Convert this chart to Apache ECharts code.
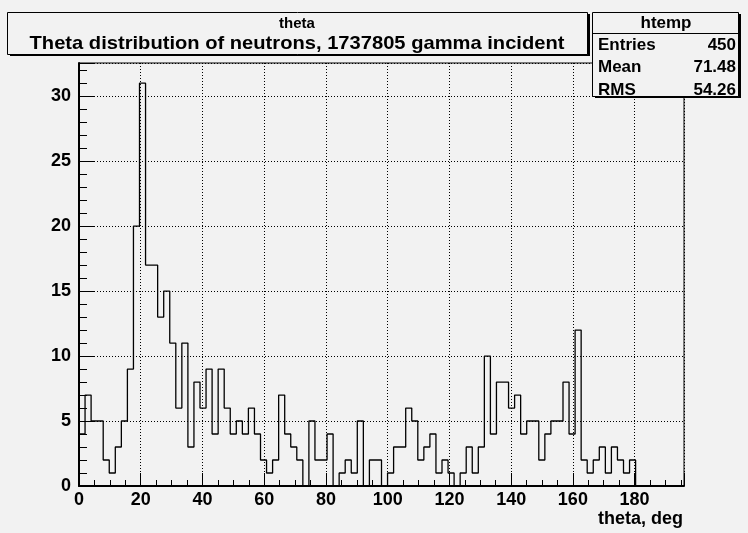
<!DOCTYPE html>
<html><head><meta charset="utf-8">
<script src="https://cdn.jsdelivr.net/npm/echarts@6/dist/echarts.min.js"></script>
<style>html,body{margin:0;padding:0;background:#f2f2f2}#c{width:748px;height:533px}</style>
</head><body><div id="c"></div><script>
// ---- data ----
const binWidth = 1.96;
const counts = [4,7,5,5,2,1,3,5,9,20, 31,17,17,13,15,11,6,11,3,8, 6,9,4,9,6,4,5,4,6,4,
  2,1,2,7,4,3,2,0,5,2, 2,4,0,1,2,1,5,0,2,2, 0,1,3,3,6,5,2,3,4,1, 2,1,0,1,3,1,3,10,4,8,
  8,6,7,4,5,5,2,4,5,5, 8,4,12,2,1,2,3,1,3,2, 1,2,0,0,0,0,0,0,0,0];
const xTickLabels = [0,20,40,60,80,100,120,140,160,180];
const yTickLabels = [0,5,10,15,20,25,30];
const titleLines = ['theta', 'Theta distribution of neutrons, 1737805 gamma incident'];
const statsName = 'htemp';
const statsLabels = ['Entries', 'Mean', 'RMS'];
const statsValues = ['450', '71.48', '54.26'];
const xName = 'theta, deg';
const xMax = 196, yMax = 32.55;

// ---- build ----
const pts = counts.map((v, i) => [+(i * binWidth).toFixed(4), v]);
pts.push([+(counts.length * binWidth).toFixed(4), counts[counts.length - 1]]);

const FF = "'Liberation Sans', Arial, Helvetica, sans-serif";
const chart = echarts.init(document.getElementById('c'), null, {renderer: 'canvas'});

const graphics = [];
const Z = 100;
// title box
graphics.push({type:'rect', z:Z, shape:{x:10, y:14, width:580, height:42}, style:{fill:'#000'}, silent:true});
graphics.push({type:'rect', z:Z, shape:{x:7.5, y:12.5, width:580, height:42}, style:{fill:'#f2f2f2', stroke:'#000', lineWidth:1}, silent:true});
graphics.push({type:'text', z:Z, x:297, y:24, style:{text:titleLines[0], x:0, y:0, textAlign:'center', textVerticalAlign:'middle', font:'bold 15px ' + FF, fill:'#000'}});
graphics.push({type:'text', z:Z, x:297, y:44, scaleX:1.06, style:{text:titleLines[1], x:0, y:0, textAlign:'center', textVerticalAlign:'middle', font:'bold 19px ' + FF, fill:'#000'}});
// stats box
graphics.push({type:'rect', z:Z, shape:{x:595, y:14, width:146, height:84}, style:{fill:'#000'}, silent:true});
graphics.push({type:'rect', z:Z, shape:{x:592.5, y:12.5, width:146, height:84}, style:{fill:'#f2f2f2', stroke:'#000', lineWidth:1}, silent:true});
graphics.push({type:'line', z:Z, shape:{x1:592.5, y1:33.5, x2:738.5, y2:33.5}, style:{stroke:'#000', lineWidth:1}});
graphics.push({type:'text', z:Z, style:{text:statsName, x:666, y:23, textAlign:'center', textVerticalAlign:'middle', font:'bold 17px ' + FF, fill:'#000'}});
statsLabels.forEach((t, i) => {
  const y = 45 + i * 22.5;
  graphics.push({type:'text', z:Z, style:{text:t, x:598, y:y, textAlign:'left', textVerticalAlign:'middle', font:'bold 17px ' + FF, fill:'#000'}});
  graphics.push({type:'text', z:Z, style:{text:statsValues[i], x:736, y:y, textAlign:'right', textVerticalAlign:'middle', font:'bold 17px ' + FF, fill:'#000'}});
});
graphics.push({type:'text', z:Z, style:{text:xName, x:683, y:519, textAlign:'right', textVerticalAlign:'middle', font:'bold 18px ' + FF, fill:'#000'}});

const option = {
  backgroundColor: '#f2f2f2',
  animation: false,
  grid: {left:79, right:64, top:63, bottom:47, show:true, backgroundColor:'#f2f2f2', borderColor:'#000', borderWidth:1},
  xAxis: [
    {type:'value', min:0, max:xMax, interval:20, position:'bottom',
     axisLine:{show:true, onZero:false, lineStyle:{color:'#000', width:2}},
     axisTick:{show:true, inside:true, length:13, lineStyle:{color:'#000', width:1}},
     axisLabel:{show:true, margin:5, color:'#000', fontSize:18, fontWeight:'bold', fontFamily:FF, showMaxLabel:true,
       formatter: v => xTickLabels.includes(Math.round(v*100)/100) ? String(v) : ''},
     splitLine:{show:true, lineStyle:{color:'#000', width:1, type:[1,2]}}},
    {type:'value', min:0, max:xMax, interval:5, position:'bottom',
     axisLine:{show:false}, axisTick:{show:true, inside:true, length:6, lineStyle:{color:'#000', width:1}},
     axisLabel:{show:false}, splitLine:{show:false}}
  ],
  yAxis: [
    {type:'value', min:0, max:yMax, interval:5, position:'left',
     axisLine:{show:true, onZero:false, lineStyle:{color:'#000', width:2}},
     axisTick:{show:true, inside:true, length:16, lineStyle:{color:'#000', width:1}},
     axisLabel:{show:true, margin:8, color:'#000', fontSize:18, fontWeight:'bold', fontFamily:FF,
       formatter: v => yTickLabels.includes(Math.round(v*100)/100) ? String(v) : ''},
     splitLine:{show:true, lineStyle:{color:'#000', width:1, type:[1,2]}}},
    {type:'value', min:0, max:yMax, interval:1, position:'left',
     axisLine:{show:false}, axisTick:{show:true, inside:true, length:8, lineStyle:{color:'#000', width:1}},
     axisLabel:{show:false}, splitLine:{show:false}}
  ],
  series: [{
    type:'line', xAxisIndex:0, yAxisIndex:0, step:'end', data:pts,
    showSymbol:false, symbol:'none', lineStyle:{color:'#000', width:1.3}, clip:true, silent:true
  }],
  graphic: graphics
};
chart.setOption(option);
</script></body></html>
